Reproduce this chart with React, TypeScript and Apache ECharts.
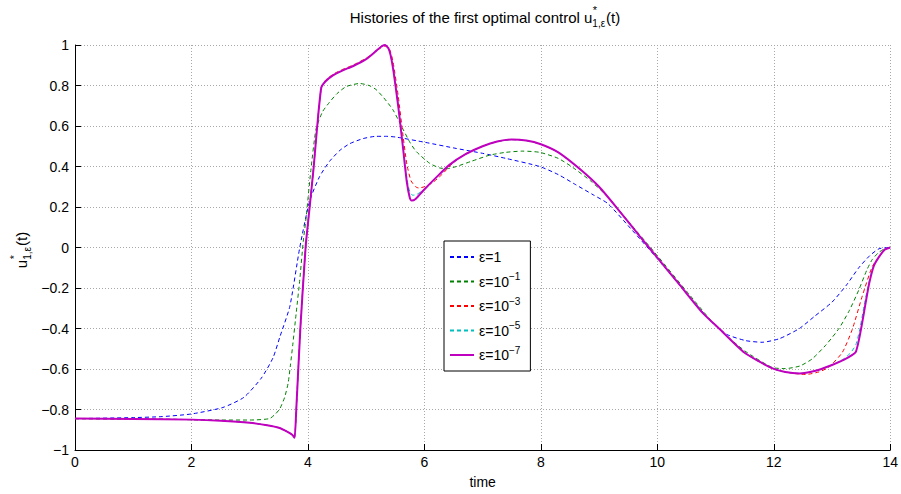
import React, { useEffect, useRef } from 'react';
import * as echarts from 'echarts';

const FONT = "'Liberation Sans', Arial, Helvetica, sans-serif";

const xTickInterval = 2;
const yTickInterval = 0.2;

const legendBase = ['ε=1', 'ε=10', 'ε=10', 'ε=10', 'ε=10'];
const legendExp = ['', '−1', '−3', '−5', '−7'];
const seriesColors = ['#0000ff', '#008000', '#ff0000', '#00bfbf', '#bf00bf'];

// eps = 1
const blueData: number[][] = [
  [0, -0.845], [1, -0.84], [1.5, -0.835], [2, -0.822], [2.54, -0.79], [2.9, -0.74], [3.2, -0.645],
  [3.4, -0.545], [3.52, -0.44], [3.69, -0.29], [3.86, 0.0], [4.03, 0.23], [4.2, 0.35], [4.37, 0.425],
  [4.55, 0.48], [4.72, 0.513], [4.95, 0.538], [5.17, 0.549], [5.35, 0.549], [5.52, 0.545], [6.0, 0.52],
  [6.55, 0.489], [7.0, 0.465], [7.4, 0.44], [7.98, 0.4], [8.3, 0.36], [8.6, 0.31], [8.9, 0.26],
  [9.15, 0.217], [9.57, 0.085], [10.0, -0.055], [10.5, -0.225], [10.94, -0.37], [11.2, -0.43],
  [11.52, -0.46], [11.8, -0.468], [12.1, -0.45], [12.44, -0.4], [12.7, -0.34], [13.0, -0.27],
  [13.25, -0.185], [13.46, -0.1], [13.65, -0.04], [13.81, -0.006], [14, 0],
];

// eps = 1e-1
const greenData: number[][] = [
  [0, -0.845], [1, -0.847], [2, -0.85], [2.5, -0.852], [3, -0.852], [3.34, -0.845], [3.45, -0.82],
  [3.52, -0.795], [3.6, -0.74], [3.66, -0.67], [3.7, -0.58], [3.74, -0.48], [3.8, -0.32], [3.86, -0.16],
  [3.92, 0.03], [3.97, 0.15], [4.05, 0.38], [4.14, 0.586], [4.25, 0.67], [4.37, 0.717], [4.5, 0.76],
  [4.66, 0.795], [4.89, 0.81], [5.05, 0.8], [5.17, 0.78], [5.3, 0.74], [5.46, 0.68], [5.63, 0.586],
  [5.75, 0.52], [5.86, 0.474], [6.09, 0.416], [6.26, 0.393], [6.4, 0.39], [6.55, 0.4], [6.8, 0.425],
  [7.12, 0.456], [7.4, 0.47], [7.69, 0.476], [7.98, 0.47], [8.3, 0.44], [8.55, 0.395], [8.85, 0.33],
  [9.15, 0.25], [9.5, 0.13], [10.0, -0.04], [10.5, -0.215], [11.0, -0.385], [11.5, -0.51],
  [11.97, -0.592], [12.2, -0.598], [12.45, -0.585], [12.66, -0.55], [12.9, -0.48], [13.12, -0.4],
  [13.3, -0.31], [13.46, -0.21], [13.6, -0.11], [13.69, -0.06], [13.8, -0.025], [13.9, -0.007], [14, 0],
];

// eps = 1e-3
const redData: number[][] = [
  [0, -0.845], [1, -0.847], [2, -0.85], [2.5, -0.855], [3, -0.865], [3.3, -0.878], [3.5, -0.89],
  [3.65, -0.91], [3.73, -0.925], [3.77, -0.94], [3.8, -0.8], [3.87, -0.4], [3.96, 0.0], [4.03, 0.2],
  [4.1, 0.4], [4.16, 0.6], [4.23, 0.79], [4.3, 0.825], [4.43, 0.855], [4.6, 0.88], [4.77, 0.9],
  [5.0, 0.935], [5.15, 0.965], [5.25, 0.985], [5.33, 0.995], [5.4, 0.98], [5.46, 0.92], [5.55, 0.75],
  [5.63, 0.56], [5.7, 0.41], [5.77, 0.33], [5.85, 0.3], [5.9, 0.294], [6.0, 0.3], [6.14, 0.32],
  [6.3, 0.36], [6.5, 0.42], [6.72, 0.465], [7.0, 0.5], [7.25, 0.523], [7.5, 0.533], [7.75, 0.528],
  [8.0, 0.51], [8.3, 0.47], [8.66, 0.39], [9.0, 0.3], [9.35, 0.18], [9.7, 0.055], [10.0, -0.05],
  [10.4, -0.19], [10.77, -0.32], [11.06, -0.4], [11.5, -0.52], [11.97, -0.597], [12.3, -0.62],
  [12.55, -0.627], [12.78, -0.614], [12.95, -0.59], [13.18, -0.517], [13.35, -0.403], [13.52, -0.24],
  [13.69, -0.095], [13.81, -0.046], [13.9, -0.012], [14, 0],
];

// eps = 1e-5
const cyanData: number[][] = [
  [0, -0.845], [1, -0.847], [2, -0.85], [2.5, -0.855], [3, -0.865], [3.3, -0.878], [3.5, -0.89],
  [3.65, -0.91], [3.73, -0.925], [3.77, -0.94], [3.8, -0.8], [3.87, -0.4], [3.96, 0.0], [4.03, 0.2],
  [4.1, 0.4], [4.16, 0.6], [4.23, 0.79], [4.3, 0.82], [4.43, 0.85], [4.6, 0.875], [4.77, 0.895],
  [5.0, 0.93], [5.15, 0.965], [5.25, 0.99], [5.32, 1.0], [5.38, 0.985], [5.42, 0.95], [5.47, 0.87],
  [5.55, 0.7], [5.63, 0.51], [5.7, 0.34], [5.75, 0.275], [5.8, 0.258], [5.87, 0.262], [5.97, 0.282],
  [6.2, 0.345], [6.43, 0.408], [6.7, 0.46], [7.0, 0.5], [7.25, 0.523], [7.5, 0.533], [7.75, 0.528],
  [8.0, 0.51], [8.3, 0.47], [8.66, 0.39], [9.0, 0.3], [9.35, 0.18], [9.7, 0.055], [10.0, -0.05],
  [10.4, -0.19], [10.77, -0.32], [11.06, -0.4], [11.5, -0.52], [11.97, -0.596], [12.2, -0.615],
  [12.44, -0.622], [12.7, -0.61], [13.0, -0.58], [13.2, -0.55], [13.32, -0.52], [13.41, -0.48],
  [13.48, -0.4], [13.55, -0.29], [13.62, -0.19], [13.7, -0.1], [13.81, -0.045], [13.9, -0.012], [14, 0],
];

// eps = 1e-7
const magentaData: number[][] = [
  [0, -0.845], [1, -0.847], [2, -0.85], [2.5, -0.855], [3, -0.865], [3.3, -0.878], [3.5, -0.89],
  [3.65, -0.91], [3.73, -0.925], [3.77, -0.94], [3.8, -0.8], [3.87, -0.4], [3.96, 0.0], [4.03, 0.2],
  [4.1, 0.4], [4.16, 0.6], [4.23, 0.79], [4.3, 0.82], [4.43, 0.85], [4.6, 0.875], [4.77, 0.895],
  [5.0, 0.93], [5.15, 0.965], [5.25, 0.99], [5.32, 1.0], [5.38, 0.985], [5.42, 0.95], [5.47, 0.87],
  [5.55, 0.7], [5.63, 0.5], [5.7, 0.32], [5.75, 0.245], [5.78, 0.232], [5.85, 0.24], [5.97, 0.278],
  [6.2, 0.345], [6.43, 0.408], [6.7, 0.46], [7.0, 0.5], [7.25, 0.523], [7.5, 0.533], [7.75, 0.528],
  [8.0, 0.51], [8.3, 0.47], [8.66, 0.39], [9.0, 0.3], [9.35, 0.18], [9.7, 0.055], [10.0, -0.05],
  [10.4, -0.19], [10.77, -0.32], [11.06, -0.4], [11.5, -0.52], [11.97, -0.596], [12.2, -0.615],
  [12.44, -0.622], [12.7, -0.61], [13.0, -0.58], [13.2, -0.555], [13.35, -0.53], [13.41, -0.515],
  [13.46, -0.46], [13.52, -0.37], [13.58, -0.27], [13.64, -0.176], [13.72, -0.09], [13.81, -0.045],
  [13.9, -0.012], [14, 0],
];

const allData = [blueData, greenData, redData, cyanData, magentaData];

function textWidth(s: string, size: number): number {
  const c = document.createElement('canvas');
  const ctx = c.getContext('2d');
  if (!ctx) return s.length * size * 0.55;
  ctx.font = `${size}px ${FONT}`;
  return ctx.measureText(s).width;
}

// builds "base u^*_{sub} tail" as graphic children centred on local x = 0
function scriptedLabel(base: string, sup: string, sub: string, tail: string, big: number, small: number) {
  const wBase = textWidth(base, big);
  const wScript = Math.max(textWidth(sup, small), textWidth(sub, small));
  const wTail = textWidth(tail, big);
  const total = wBase + wScript + 1 + wTail;
  const x0 = -total / 2;
  const mk = (text: string, x: number, y: number, size: number) => ({
    type: 'text',
    x,
    y,
    style: { text, fontSize: size, fontFamily: FONT, fill: '#000', align: 'left', verticalAlign: 'middle' },
  });
  return [
    mk(base, x0, 0, big),
    mk(sup, x0 + wBase + 0.5, -7, small + 1),
    mk(sub, x0 + wBase, 6, small),
    mk(tail, x0 + wBase + wScript + 1, 0, big),
  ];
}

export default function App() {
  const ref = useRef<HTMLDivElement>(null);

  useEffect(() => {
    if (!ref.current) return;
    document.body.style.margin = '0';
    const chart = echarts.init(ref.current, null, { renderer: 'svg' });

    const names = legendBase.map((b, i) => b + legendExp[i]);

    const series = allData.map((d, i) => ({
      name: names[i],
      type: 'line',
      data: d,
      showSymbol: false,
      symbol: 'none',
      smooth: 0.2,
      z: 2 + i,
      lineStyle: {
        color: seriesColors[i],
        width: i === 4 ? 2 : 1,
        type: i === 4 ? 'solid' : [4, 3],
      },
      itemStyle: { color: seriesColors[i] },
    }));

    const titleChildren = scriptedLabel('Histories of the first optimal control u', '*', '1,ε', '(t)', 15, 10);
    const yLabelChildren = scriptedLabel('u', '*', '1,ε', '(t)', 15, 10);

    chart.setOption({
      animation: false,
      backgroundColor: '#fff',
      grid: { left: 75, right: 10, top: 45, bottom: 38, containLabel: false },
      xAxis: {
        type: 'value',
        min: 0,
        max: 14,
        interval: xTickInterval,
        name: 'time',
        nameLocation: 'middle',
        nameGap: 25,
        nameTextStyle: { fontSize: 14, color: '#000', fontFamily: FONT },
        axisLine: { show: true, onZero: false, lineStyle: { color: '#000', width: 1 } },
        axisTick: { show: true, inside: true, length: 6, lineStyle: { color: '#000' } },
        axisLabel: { fontSize: 14, color: '#000', fontFamily: FONT, margin: 5 },
        splitLine: { show: true, lineStyle: { type: [1, 2], color: '#a8a8a8', width: 1 } },
      },
      yAxis: {
        type: 'value',
        min: -1,
        max: 1,
        interval: yTickInterval,
        axisLine: { show: true, onZero: false, lineStyle: { color: '#000', width: 1 } },
        axisTick: { show: true, inside: true, length: 6, lineStyle: { color: '#000' } },
        axisLabel: {
          fontSize: 14,
          color: '#000',
          fontFamily: FONT,
          margin: 6,
          formatter: (v: number) => String(+v.toFixed(1)).replace('-', '−'),
        },
        splitLine: { show: true, lineStyle: { type: [1, 2], color: '#a8a8a8', width: 1 } },
      },
      legend: {
        orient: 'vertical',
        left: 444,
        top: 241,
        itemWidth: 24,
        itemHeight: 12,
        itemGap: 7.5,
        padding: [9, 10, 9, 5],
        borderColor: '#000',
        borderWidth: 1,
        backgroundColor: '#fff',
        itemStyle: { opacity: 0 },
        data: names,
        formatter: (name: string) => {
          const i = names.indexOf(name);
          return legendExp[i] ? `{b|${legendBase[i]}}{s|${legendExp[i]}}` : `{b|${legendBase[i]}}`;
        },
        textStyle: {
          color: '#000',
          fontFamily: FONT,
          fontSize: 14,
          rich: {
            b: { fontSize: 14, fontFamily: FONT, color: '#000', lineHeight: 20 },
            s: { fontSize: 10, fontFamily: FONT, color: '#000', lineHeight: 9, verticalAlign: 'top' },
          },
        },
      },
      graphic: [
        { type: 'group', x: 485, y: 17, children: titleChildren },
        { type: 'group', x: 21, y: 250, rotation: Math.PI / 2, children: yLabelChildren },
      ],
      series,
    });

    return () => chart.dispose();
  }, []);

  return <div ref={ref} style={{ width: 901, height: 494 }} />;
}
